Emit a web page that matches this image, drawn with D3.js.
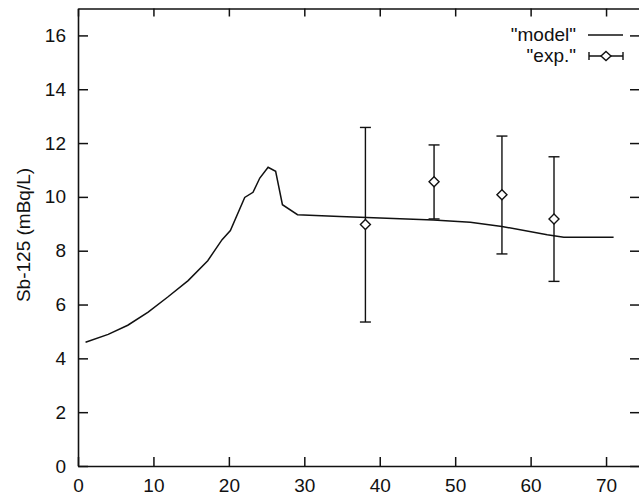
<!DOCTYPE html>
<html>
<head>
<meta charset="utf-8">
<script src="https://cdn.jsdelivr.net/npm/d3@7"></script>
<style>
  html, body { margin: 0; padding: 0; background: #fff; }
  svg { display: block; }
  text { font-family: "Liberation Sans", Arial, Helvetica, sans-serif; fill: #111; }
</style>
</head>
<body>
<svg id="chart" width="639" height="497"></svg>
<script>
// ---- data ----
const modelX = [1, 4, 6.6, 9.3, 11.9, 14.6, 17.2, 19.1, 20.2, 22.1, 23.2, 24.1, 25.2, 26.2, 27.1, 29.1, 34.7, 37.4, 47.1, 52, 56.2, 62.2, 64.4, 71];
const modelY = [4.6, 4.89, 5.23, 5.72, 6.28, 6.89, 7.63, 8.41, 8.75, 9.98, 10.17, 10.7, 11.1, 10.95, 9.71, 9.34, 9.27, 9.24, 9.14, 9.06, 8.9, 8.59, 8.5, 8.5];
const expX = [38.1, 47.2, 56.2, 63.1];
const expY = [8.97, 10.56, 10.08, 9.18];
const expLo = [5.35, 9.18, 7.88, 6.86];
const expHi = [12.58, 11.93, 12.26, 11.49];
const xTicks = [0, 10, 20, 30, 40, 50, 60, 70];
const yTicks = [0, 2, 4, 6, 8, 10, 12, 14, 16];
const seriesNames = ['"model"', '"exp."'];
const yLabel = "Sb-125 (mBq/L)";

// ---- layout ----
const L = 78, R = 640, T = 8.5, B = 466;
const FS = 19;
const x = d3.scaleLinear().domain([0, 74.5]).range([L, R]);
const y = d3.scaleLinear().domain([0, 17]).range([B, T]);
const ink = "#111";
const svg = d3.select("#chart");

function styleAxis(g) {
  g.select(".domain").attr("stroke", ink).attr("stroke-width", 1.6);
  g.selectAll(".tick line").attr("stroke", ink).attr("stroke-width", 1.5);
  g.selectAll("text").attr("font-size", FS).attr("fill", ink)
    .attr("font-family", '"Liberation Sans", Arial, Helvetica, sans-serif');
}

svg.append("g").attr("transform", `translate(0,${B})`)
  .call(d3.axisBottom(x).tickValues(xTicks).tickSizeInner(-9).tickSizeOuter(0).tickPadding(12.5))
  .call(styleAxis);
svg.append("g").attr("transform", `translate(0,${T})`)
  .call(d3.axisTop(x).tickValues(xTicks).tickSizeInner(-8).tickSizeOuter(0).tickFormat(""))
  .call(styleAxis);
svg.append("g").attr("transform", `translate(${L},0)`)
  .call(d3.axisLeft(y).tickValues(yTicks).tickSizeInner(-10).tickSizeOuter(0).tickPadding(12))
  .call(styleAxis);
svg.append("g").attr("transform", `translate(${R},0)`)
  .call(d3.axisRight(y).tickValues(yTicks).tickSizeInner(-10).tickSizeOuter(0).tickFormat(""))
  .call(styleAxis);

// y label
svg.append("text")
  .attr("transform", `translate(30,235) rotate(-90)`)
  .attr("text-anchor", "middle")
  .attr("font-size", FS)
  .text(yLabel);

// model line
const modelData = modelX.map((v, i) => [v, modelY[i]]);
svg.append("path")
  .datum(modelData)
  .attr("fill", "none")
  .attr("stroke", ink)
  .attr("stroke-width", 1.5)
  .attr("d", d3.line().x(d => x(d[0])).y(d => y(d[1])));

// experimental points with error bars
const expData = expX.map((v, i) => ({ x: v, y: expY[i], lo: expLo[i], hi: expHi[i] }));
const cap = 5.5, dm = 5;
const eg = svg.append("g").attr("stroke", ink).attr("stroke-width", 1.4).attr("fill", "none");
expData.forEach(d => {
  const cx = x(d.x);
  eg.append("line").attr("x1", cx).attr("x2", cx).attr("y1", y(d.lo)).attr("y2", y(d.hi));
  eg.append("line").attr("x1", cx - cap).attr("x2", cx + cap).attr("y1", y(d.lo)).attr("y2", y(d.lo));
  eg.append("line").attr("x1", cx - cap).attr("x2", cx + cap).attr("y1", y(d.hi)).attr("y2", y(d.hi));
  const cy = y(d.y);
  eg.append("path").attr("fill", "#fff")
    .attr("d", `M${cx},${cy - dm}L${cx + dm},${cy}L${cx},${cy + dm}L${cx - dm},${cy}Z`);
});

// legend
const lg = svg.append("g");
lg.append("text").attr("x", 576).attr("y", 41).attr("text-anchor", "end").attr("font-size", FS).text(seriesNames[0]);
lg.append("line").attr("x1", 588).attr("x2", 623).attr("y1", 35).attr("y2", 35).attr("stroke", ink).attr("stroke-width", 1.4);
lg.append("text").attr("x", 576).attr("y", 62).attr("text-anchor", "end").attr("font-size", FS).text(seriesNames[1]);
const ly = 56, lx1 = 589, lx2 = 623, lc = (lx1 + lx2) / 2;
lg.append("line").attr("x1", lx1).attr("x2", lx2).attr("y1", ly).attr("y2", ly).attr("stroke", ink).attr("stroke-width", 1.4);
lg.append("line").attr("x1", lx1).attr("x2", lx1).attr("y1", ly - 4).attr("y2", ly + 4).attr("stroke", ink).attr("stroke-width", 1.4);
lg.append("line").attr("x1", lx2).attr("x2", lx2).attr("y1", ly - 4).attr("y2", ly + 4).attr("stroke", ink).attr("stroke-width", 1.4);
lg.append("path").attr("fill", "#fff").attr("stroke", ink).attr("stroke-width", 1.4)
  .attr("d", `M${lc},${ly - 4.5}L${lc + 5},${ly}L${lc},${ly + 4.5}L${lc - 5},${ly}Z`);
</script>
</body>
</html>
